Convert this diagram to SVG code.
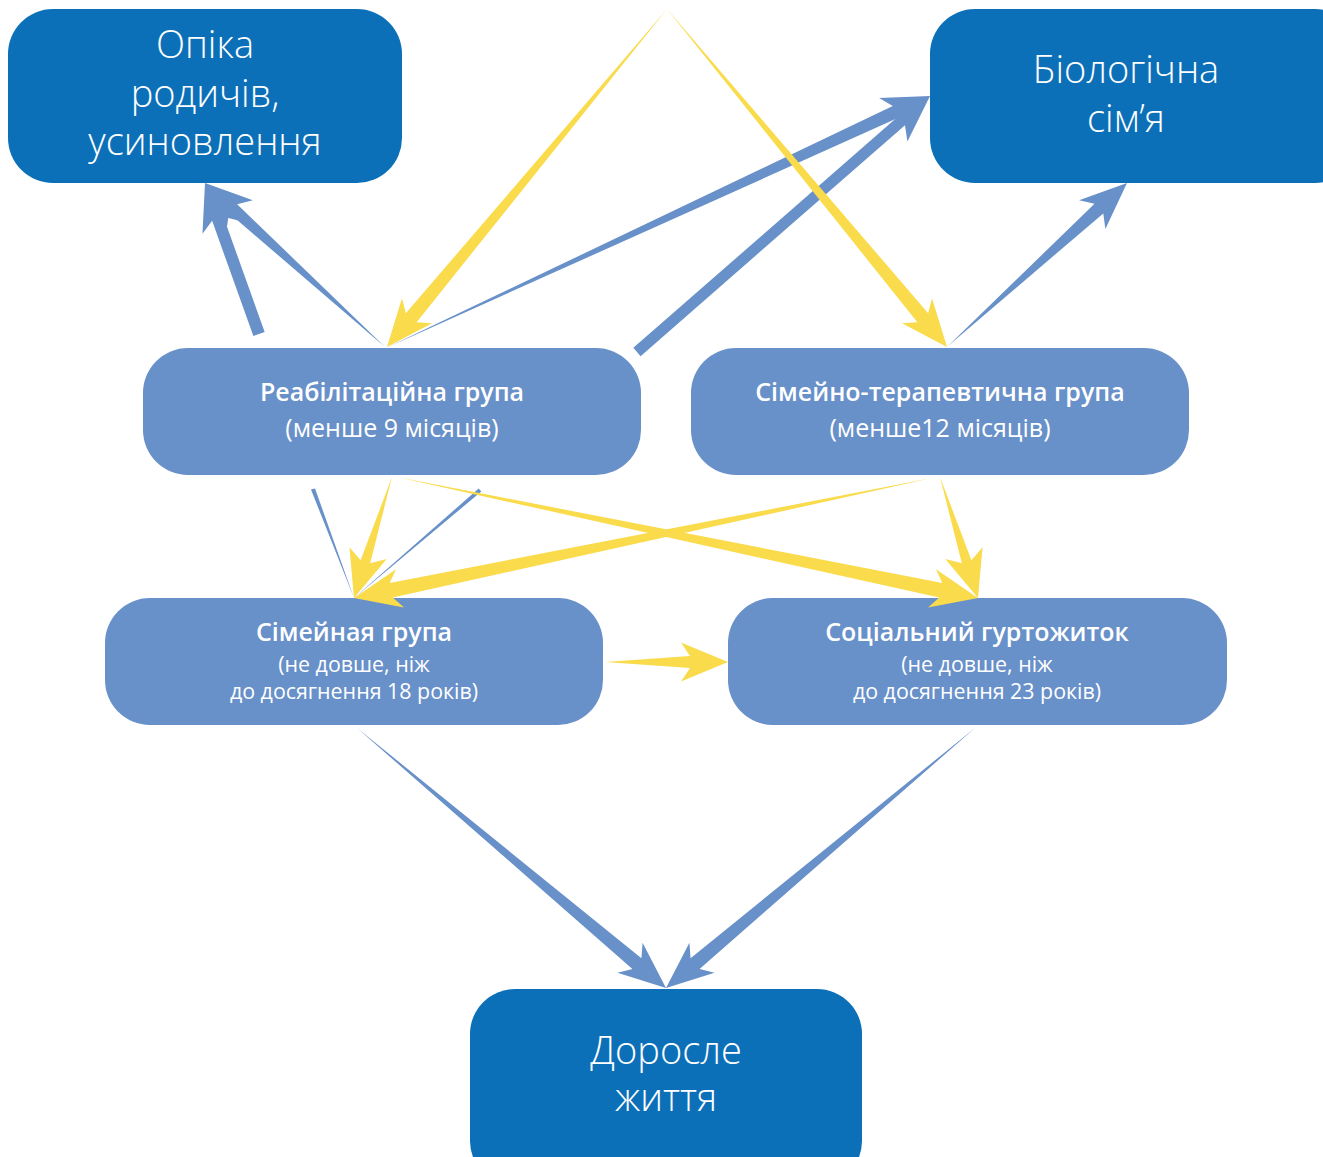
<svg xmlns="http://www.w3.org/2000/svg" width="1323" height="1157" viewBox="0 0 1323 1157">
<style>
.dark{fill:#0c70b9}
.light{fill:#6890c9}
.ya{fill:#f9db4b}
.ba{fill:#6890c9}
text{fill:#ffffff;font-family:"Open Sans","Noto Sans",sans-serif;text-anchor:middle}
.big{font-size:38px;font-weight:300}
.t1{font-size:25px;font-weight:600}
.t2{font-size:25px;font-weight:400}
.t3{font-size:21.4px;font-weight:400}
</style>
<rect width="1323" height="1157" fill="#ffffff"/>
<g id="node-opika">
<rect class="dark" x="8" y="9" width="394" height="174" rx="45"/>
<text class="big" x="205" y="58">Опіка</text>
<text class="big" x="205" y="107">родичів,</text>
<text class="big" x="205" y="155">усиновлення</text>
</g>
<g id="node-biol">
<rect class="dark" x="930" y="9" width="430" height="174" rx="45"/>
<text class="big" x="1126" y="83">Біологічна</text>
<text class="big" x="1126" y="132">сім’я</text>
</g>
<g id="node-reab">
<rect class="light" x="143" y="348" width="498" height="127" rx="45"/>
<text class="t1" x="392" y="401">Реабілітаційна група</text>
<text class="t2" x="392" y="437">(менше 9 місяців)</text>
</g>
<g id="node-simter">
<rect class="light" x="691" y="348" width="498" height="127" rx="45"/>
<text class="t1" x="940" y="401">Сімейно-терапевтична група</text>
<text class="t2" x="940" y="437">(менше12 місяців)</text>
</g>
<g id="node-simgr">
<rect class="light" x="105" y="598" width="498" height="127" rx="45"/>
<text class="t1" x="354" y="641">Сімейная група</text>
<text class="t3" x="354" y="672">(не довше, ніж</text>
<text class="t3" x="354" y="699">до досягнення 18 років)</text>
</g>
<g id="node-soc">
<rect class="light" x="728" y="598" width="499" height="127" rx="45"/>
<text class="t1" x="977" y="641">Соціальний гуртожиток</text>
<text class="t3" x="977" y="672">(не довше, ніж</text>
<text class="t3" x="977" y="699">до досягнення 23 років)</text>
</g>
<g id="node-dor">
<rect class="dark" x="470" y="989" width="392" height="197" rx="45"/>
<text class="big" x="666" y="1064">Доросле</text>
<text class="big" x="666" y="1111">життя</text>
</g>
<g id="connectors">
<polygon class="ba" transform="translate(205,183) rotate(-109.68)" points="-160.4,-6 -38,-6 -47,-19.5 0,0 -47,19.5 -38,6 -160.4,6"/>
<polygon class="ba" transform="translate(205,183) rotate(-137.66)" points="-243.5,0 -38,-6 -47,-19.5 0,0 -47,19.5 -38,6"/>
<polygon class="ba" transform="translate(930,96) rotate(-24.85)" points="-597.3,0 -38,-6.5 -47,-19.5 0,0 -47,19.5 -38,6.5"/>
<polygon class="ba" transform="translate(930,96) rotate(-41.14)" points="-389.1,-5.5 -38,-5.5 -47,-19.5 0,0 -47,19.5 -38,5.5 -389.1,5.5"/>
<polygon class="ba" transform="translate(1127,183) rotate(-42.32)" points="-242.1,0 -38,-6.5 -47,-19.5 0,0 -47,19.5 -38,6.5"/>
<polygon class="ba" points="354,598 311,489.5 315,488.5"/>
<polygon class="ba" points="354,598 478.7,488.5 481.3,491.5"/>
<polygon class="ba" transform="translate(666,988) rotate(40.08)" points="-403.8,0 -38,-7 -47,-19.5 0,0 -47,19.5 -38,7"/>
<polygon class="ba" transform="translate(666,988) rotate(139.92)" points="-403.8,0 -38,-7 -47,-19.5 0,0 -47,19.5 -38,7"/>
<polygon class="ya" transform="translate(387,347) rotate(129.64)" points="-438.9,0 -38,-7 -47,-19.5 0,0 -47,19.5 -38,7"/>
<polygon class="ya" transform="translate(947,347) rotate(50.36)" points="-438.9,0 -38,-7 -47,-19.5 0,0 -47,19.5 -38,7"/>
<polygon class="ya" transform="translate(354,598) rotate(107.43)" points="-126.8,0 -38,-5 -47,-19.5 0,0 -47,19.5 -38,5"/>
<polygon class="ya" transform="translate(354,598) rotate(168.27)" points="-590.3,0 -38,-7.5 -47,-19.5 0,0 -47,19.5 -38,7.5"/>
<polygon class="ya" transform="translate(978,598) rotate(11.76)" points="-593.5,0 -38,-7.5 -47,-19.5 0,0 -47,19.5 -38,7.5"/>
<polygon class="ya" transform="translate(978,598) rotate(72.57)" points="-126.8,0 -38,-5 -47,-19.5 0,0 -47,19.5 -38,5"/>
<polygon class="ya" transform="translate(728,662)" points="-123,0 -38,-6 -47,-19.5 0,0 -47,19.5 -38,6"/>
</g>
</svg>
